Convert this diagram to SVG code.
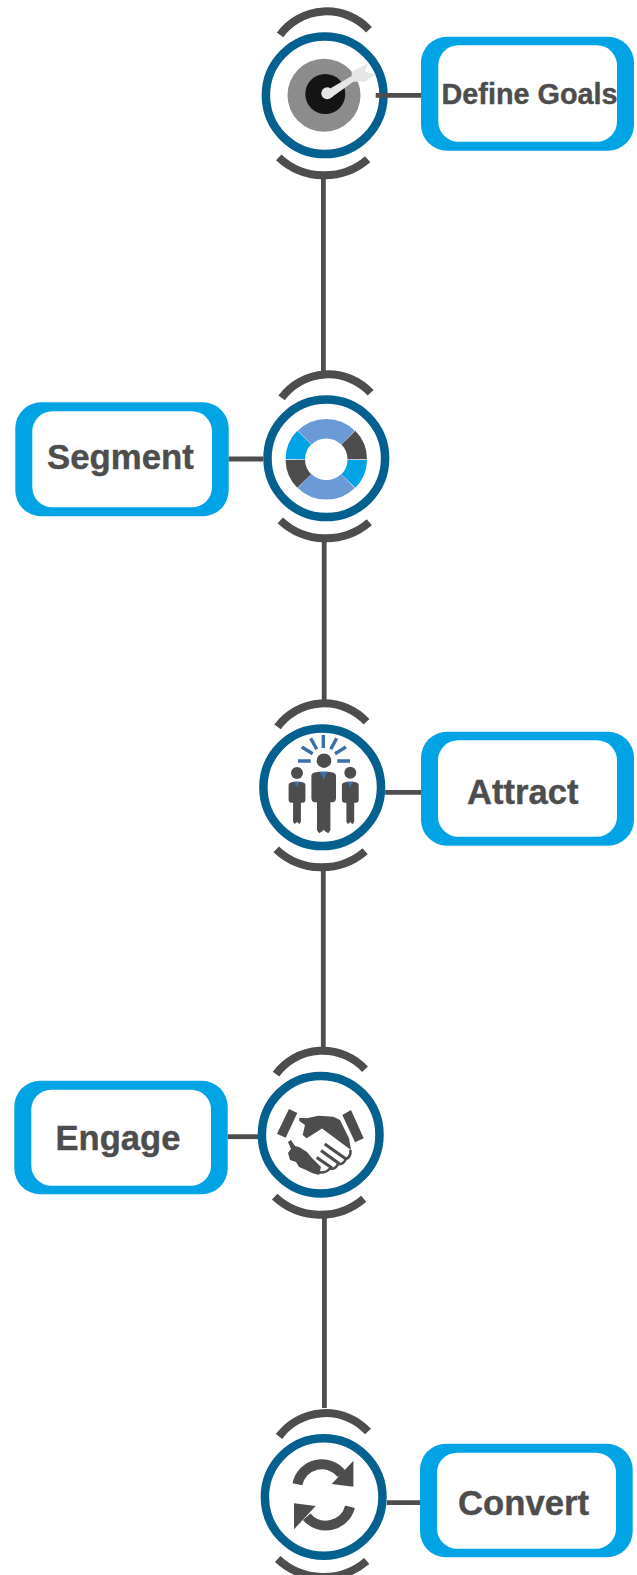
<svg xmlns="http://www.w3.org/2000/svg" width="637" height="1575" viewBox="0 0 637 1575">
<style>
.box{fill:#00a3e4}
.inner{fill:#fff}
.lbl{font-family:"Liberation Sans",Arial,sans-serif;font-weight:700;fill:#4d4d4d;stroke:#4d4d4d;stroke-width:.4}
.ln{stroke:#4d4d4d;stroke-width:4.8;fill:none}
.arc{stroke:#4d4d4d;stroke-width:8;fill:none}
.ring{stroke:#04608f;stroke-width:8.5;fill:#fff}
.dk{fill:#4d4d4d}
.ray{stroke:#3a6fa8;stroke-width:3.4;fill:none}
.tie{fill:#3a6fa8}
.seg{stroke-width:19.5;fill:none}
</style>
<defs>
<g id="rings">
<path class="arc" d="M-44.7,-60.5 A58,58 0 0 1 44.3,-65.5"/>
<path class="arc" d="M-46,62 A66.7,66.7 0 0 0 43,64"/>
<circle class="ring" r="58.8"/>
</g>
<g id="man-big">
<path class="dk" d="M-12.3,4 Q-12.3,1.5 -9,0.7 L-5,0 L5,0 L9,0.7 Q12.3,1.5 12.3,4 L12.3,27 Q12.3,29.5 9.5,30.6 L6.7,30.6 L6.7,58.5 L4.5,61.6 L1.5,59.5 L0,58 L-1.5,59.5 L-4.5,61.6 L-6.7,58.5 L-6.7,30.6 L-9.5,30.6 Q-12.3,29.5 -12.3,27 Z"/>
<path class="tie" d="M-4,0 L4,0 L0,8 Z"/>
</g>
<g id="man-small">
<path class="dk" d="M-8.4,3 Q-8.4,1 -5.5,0.5 L-3,0 L3,0 L5.5,0.5 Q8.4,1 8.4,3 L8.4,18.5 Q8.4,20.5 6,21 L3.9,21 L3.9,40 L2.5,42.3 L0.8,41 L0,40 L-0.8,41 L-2.5,42.3 L-3.9,40 L-3.9,21 L-6,21 Q-8.4,20.5 -8.4,18.5 Z"/>
<path class="tie" d="M-2.8,0 L2.8,0 L0,5.7 Z"/>
</g>
</defs>
<g id="node-define-goals">
<use href="#rings" x="324.7" y="95.3"/>
<circle cx="324" cy="95.3" r="36.5" fill="#8c8c8c"/>
<circle cx="325.3" cy="94" r="20" fill="#141414"/>
<path d="M331,88 L351.7,76 L351.7,71.7 L368.3,63.3 L365,71.7 L376,74 L365,81.7 L353.3,81.7 L332,97 Z" fill="#e6e6e6"/>
<circle cx="327.3" cy="93.3" r="6" fill="#e6e6e6"/>
<rect class="box" x="421" y="36.7" width="213" height="114" rx="26"/>
<rect class="inner" x="438.3" y="45.3" width="178.7" height="96.4" rx="20"/>
<text class="lbl" x="441.5" y="104" font-size="28.8">Define Goals</text>
</g>
<g id="node-segment">
<use href="#rings" x="326.3" y="458.3"/>
<g transform="translate(326.3,459.3)">
<path class="seg" stroke="#6a9bd6" d="M-21.7,-21.7 A31,31 0 0 1 21.7,-21.7"/>
<path class="seg" stroke="#4d4d4d" d="M22.1,-21.7 A31,31 0 0 1 31,0"/>
<path class="seg" stroke="#00a3e4" d="M31,0.5 A31,31 0 0 1 22.1,21.7"/>
<path class="seg" stroke="#6a9bd6" d="M21.7,21.7 A31,31 0 0 1 -21.7,21.7"/>
<path class="seg" stroke="#4d4d4d" d="M-22.1,21.7 A31,31 0 0 1 -31,0.5"/>
<path class="seg" stroke="#00a3e4" d="M-31,0 A31,31 0 0 1 -22.1,-21.7"/>
</g>
<rect class="box" x="15.3" y="402.3" width="213.4" height="114" rx="26"/>
<rect class="inner" x="32.3" y="411.3" width="179.7" height="96" rx="20"/>
<text class="lbl" x="47" y="469" font-size="34.8">Segment</text>
</g>
<g id="node-attract">
<use href="#rings" x="322.2" y="787.3"/>
<path class="ray" d="M323.3,735V748M310.7,738.3L316.7,749.3M301.7,747L312.7,753.7M298,761H310.7M336.7,738.3L330.7,749.3M346,747L335,753.7M350,761H337.3"/>
<circle class="dk" cx="324" cy="760.7" r="7.3"/>
<circle class="dk" cx="297" cy="773" r="6"/>
<circle class="dk" cx="350.3" cy="772.7" r="6"/>
<use href="#man-big" x="323.7" y="771.7"/>
<use href="#man-small" x="297" y="781.7"/>
<use href="#man-small" x="350.3" y="781.7"/>
<rect class="box" x="421" y="731.7" width="213" height="114" rx="26"/>
<rect class="inner" x="438" y="740.3" width="179" height="96.4" rx="20"/>
<text class="lbl" x="467" y="804" font-size="34.6">Attract</text>
</g>
<g id="node-engage">
<use href="#rings" x="320.7" y="1134.7"/>
<path class="dk" d="M289,1109L297.3,1113L285.7,1137.7L277,1133.7Z"/>
<path class="dk" d="M342.3,1115L351,1110L363.7,1138.3L355,1142.3Z"/>
<path class="dk" d="M299.3,1117.7L306.7,1118.3L318.3,1115.7L333.3,1116.7L340,1120L349,1138.3L351,1150L322,1128.5L315,1133L306.7,1138.3L302.7,1135L305,1125L299.3,1121Z"/>
<path class="dk" d="M288,1142L291,1140L295,1146L299,1147L303,1149.5L307,1152L311,1157L315,1161L321,1167L319,1175L312,1173L306,1170L299,1167L296,1162L290,1160L288,1153L291,1149Z"/>
<path d="M324.7,1144L346,1159M321,1150.5L339,1163.5M316.7,1157.5L332,1168" stroke="#4d4d4d" stroke-width="3.2" fill="none"/>
<path d="M350.5,1150Q351,1157 346,1159Q343,1165 338,1164Q335,1170 330,1168.5Q325,1174 318,1172" stroke="#4d4d4d" stroke-width="2.6" fill="none"/>
<rect class="box" x="14.3" y="1080.7" width="213.4" height="113.6" rx="26"/>
<rect class="inner" x="31.3" y="1089.7" width="179.7" height="96" rx="20"/>
<text class="lbl" x="55.5" y="1150" font-size="34.6">Engage</text>
</g>
<g id="node-convert">
<use href="#rings" x="323.7" y="1497"/>
<g transform="translate(323.7,1497)">
<path d="M-26.3,-12.7 A25,25 0 0 1 18,-23" stroke="#4d4d4d" stroke-width="10" fill="none"/>
<path class="dk" d="M29.7,-36.3 L29.7,-10.3 L8,-13 Z"/>
<path d="M26.3,9.7 A25,25 0 0 1 -17,19.7" stroke="#4d4d4d" stroke-width="10" fill="none"/>
<path class="dk" d="M-29.7,32.3 L-29.7,6.3 L-8,9 Z"/>
</g>
<rect class="box" x="420" y="1443.7" width="212.7" height="113.6" rx="26"/>
<rect class="inner" x="437" y="1452.7" width="179" height="96" rx="20"/>
<text class="lbl" x="458" y="1515" font-size="34.7">Convert</text>
</g>
<g id="connectors">
<path class="ln" d="M323.4,178V372"/>
<path class="ln" d="M324.2,540V701"/>
<path class="ln" d="M323.3,868V1047"/>
<path class="ln" d="M324.4,1214V1408"/>
<path class="ln" d="M375.7,95.3H421"/>
<path class="ln" d="M228.7,459H263.3"/>
<path class="ln" d="M385.2,792.3H421"/>
<path class="ln" d="M227.7,1136.7H258"/>
<path class="ln" d="M386.9,1502.7H420"/>
</g>
</svg>
